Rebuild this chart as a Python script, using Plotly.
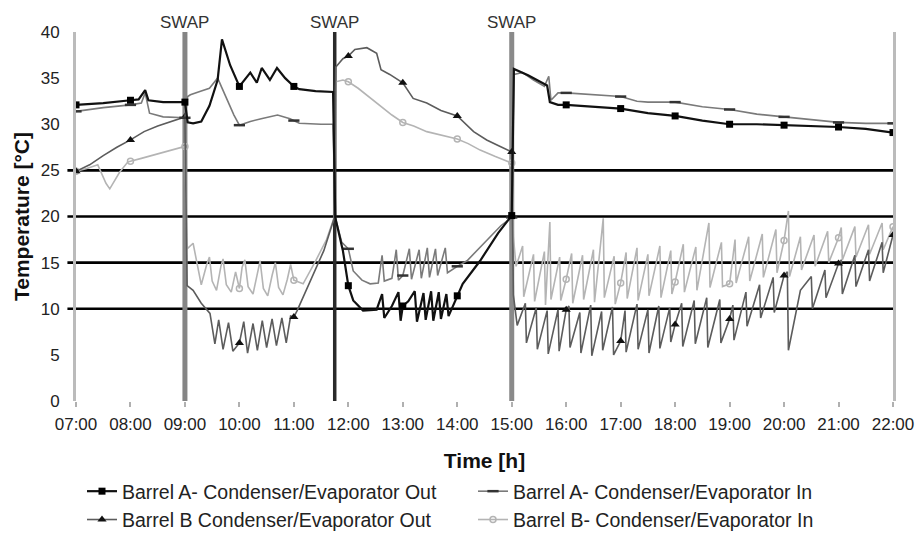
import plotly.graph_objects as go

# ---- axis labels / reference values ----
hours = list(range(7, 23))
hour_labels = [f"{h:02d}:00" for h in hours]
temp_ticks = [0, 5, 10, 15, 20, 25, 30, 35, 40]
ref_lines = [10, 15, 20, 25]
swap_times = [9.0, 11.75, 15.0]

# ---- measured temperatures (time in decimal hours, temperature in deg C) ----
a_out_t = [7.00, 7.50, 8.00, 8.15, 8.27, 8.33, 8.60, 9.00,
           9.05, 9.15, 9.30, 9.45, 9.60, 9.68, 9.83, 10.00, 10.20, 10.32, 10.41, 10.56,
           10.69, 10.84, 11.00, 11.10, 11.40, 11.72,
           11.76, 11.90, 12.00, 12.09, 12.27, 12.52, 12.62, 12.66, 12.80, 12.92, 12.96,
           13.00, 13.10, 13.22, 13.26, 13.38, 13.42, 13.52, 13.56, 13.66, 13.70, 13.80,
           13.84, 14.00, 14.10, 14.42, 14.75, 15.00,
           15.04, 15.30, 15.50, 15.65, 15.70, 15.85, 16.00, 16.50, 17.00, 17.50, 18.00,
           18.50, 19.00, 19.50, 20.00, 20.50, 21.00, 21.50, 22.00]
a_out_v = [32.1, 32.3, 32.6, 32.7, 33.7, 32.6, 32.4, 32.4,
           30.2, 30.1, 30.3, 32.0, 34.8, 39.2, 36.4, 34.1, 35.6, 34.5, 36.1, 34.8,
           36.1, 35.0, 34.1, 33.8, 33.6, 33.5,
           19.9, 16.3, 12.5, 10.9, 9.8, 9.9, 11.6, 9.0, 10.3, 11.8, 8.7,
           10.3, 10.8, 11.9, 8.6, 11.7, 8.8, 11.9, 8.7, 11.8, 8.9, 11.6,
           9.2, 11.4, 12.7, 15.2, 18.2, 20.1,
           36.0, 35.3, 34.7, 34.2, 32.4, 32.1, 32.1, 31.9, 31.7, 31.2, 30.9,
           30.4, 30.0, 30.0, 29.9, 29.8, 29.7, 29.5, 29.1]

a_in_t = [7.00, 7.50, 8.00, 8.20, 8.27, 8.35, 8.60, 9.00,
          9.05, 9.10, 9.30, 9.45, 9.60, 9.75, 9.90, 10.00, 10.20, 10.40, 10.70, 10.93,
          11.00, 11.10, 11.50, 11.72,
          11.76, 11.88, 12.00, 12.09, 12.25, 12.40, 12.55, 12.62, 12.66, 12.80, 12.88,
          12.92, 13.00, 13.12, 13.16, 13.30, 13.34, 13.45, 13.49, 13.60, 13.64, 13.78,
          13.82, 14.00, 14.18, 14.54, 14.80, 15.00,
          15.04, 15.20, 15.40, 15.60, 15.68, 15.72, 15.85, 16.00, 16.50, 17.00, 17.30,
          17.50, 18.00, 18.50, 19.00, 19.50, 20.00, 20.50, 21.00, 21.50, 22.00]
a_in_v = [31.4, 31.8, 32.1, 32.3, 33.4, 31.2, 30.8, 30.7,
          33.0, 33.2, 33.6, 33.9, 35.0, 33.0, 31.0, 29.9, 30.3, 30.6, 31.0, 30.6,
          30.4, 30.1, 30.0, 30.0,
          19.9, 17.2, 16.5, 14.1, 13.1, 12.7, 12.8, 15.8, 13.0, 13.3, 16.4,
          13.1, 13.6, 16.5, 13.2, 16.4, 13.3, 16.6, 13.4, 16.5, 13.6, 16.6,
          13.9, 14.6, 15.2, 17.4, 19.0, 19.9,
          35.4, 35.6, 34.8, 34.1, 35.2, 32.6, 33.4, 33.4, 33.2, 33.0, 32.5,
          32.4, 32.4, 31.9, 31.6, 31.1, 30.8, 30.5, 30.2, 30.1, 30.1]

b_out_t = [7.00, 7.25, 7.50, 7.75, 8.00, 8.25, 8.50, 8.75, 9.00,
           9.04, 9.15, 9.30, 9.46, 9.55, 9.62, 9.70, 9.80, 9.88, 10.00, 10.08, 10.15,
           10.25, 10.33, 10.42, 10.50, 10.60, 10.68, 10.78, 10.86, 10.94, 11.00, 11.06,
           11.30, 11.55, 11.74,
           11.77, 11.90, 12.00, 12.12, 12.34, 12.52, 12.60, 12.76, 13.00, 13.19, 13.44,
           13.70, 14.00, 14.30, 14.54, 14.75, 15.00,
           15.03, 15.10, 15.25, 15.27, 15.45, 15.47, 15.65, 15.67, 15.85, 15.87, 16.00,
           16.05, 16.07, 16.25, 16.27, 16.45, 16.47, 16.65, 16.67, 16.85, 16.87, 17.00,
           17.08, 17.10, 17.30, 17.32, 17.50, 17.52, 17.70, 17.72, 17.90, 17.92, 18.00,
           18.12, 18.14, 18.35, 18.37, 18.58, 18.60, 18.82, 18.84, 19.00, 19.06, 19.08,
           19.30, 19.32, 19.55, 19.57, 19.80, 19.82, 20.00, 20.06, 20.08, 20.30, 20.50,
           20.52, 20.75, 20.77, 21.00, 21.05, 21.07, 21.30, 21.32, 21.55, 21.57, 21.80,
           21.82, 22.00]
b_out_v = [24.9, 25.6, 26.6, 27.5, 28.3, 29.2, 29.8, 30.3, 30.8,
           12.5, 12.0, 10.6, 9.5, 6.2, 8.8, 5.6, 8.5, 5.4, 6.3, 8.6, 5.2,
           8.4, 5.5, 8.7, 5.8, 8.9, 6.0, 9.0, 6.3, 9.2, 9.1, 9.8,
           13.0, 16.3, 19.8,
           36.2, 37.1, 37.4, 38.1, 38.3, 37.7, 35.9, 35.4, 34.5, 32.8, 32.3,
           31.5, 30.9, 29.2, 28.3, 27.7, 27.0,
           11.5, 8.2, 10.6, 6.3, 10.1, 5.6, 9.8, 5.1, 9.9, 5.4, 9.9,
           10.3, 5.8, 9.6, 5.2, 10.4, 4.9, 9.7, 5.5, 10.2, 5.0, 6.5,
           9.8, 5.3, 10.5, 5.6, 9.9, 5.2, 10.3, 5.7, 10.1, 6.4, 8.3,
           10.6, 5.9, 10.9, 6.2, 11.2, 5.8, 11.0, 6.3, 8.9, 10.4, 6.6,
           11.8, 8.1, 12.6, 9.0, 13.4, 9.6, 13.6, 14.0, 5.5, 12.0, 13.5,
           10.0, 14.2, 11.2, 14.9, 15.3, 11.6, 15.8, 12.4, 16.4, 13.0, 17.2,
           13.9, 18.0]

b_in_t = [7.00, 7.20, 7.40, 7.55, 7.62, 7.80, 7.95, 8.00, 8.20, 8.50, 8.75, 9.00,
          9.04, 9.15, 9.22, 9.30, 9.40, 9.45, 9.50, 9.58, 9.66, 9.70, 9.76, 9.85, 9.93,
          10.00, 10.05, 10.10, 10.16, 10.25, 10.33, 10.38, 10.44, 10.52, 10.60, 10.66,
          10.72, 10.80, 10.88, 10.94, 11.00, 11.17, 11.40, 11.60, 11.74,
          11.77, 11.90, 12.00, 12.18, 12.52, 12.80, 13.00, 13.20, 13.44, 13.70, 14.00,
          14.20, 14.42, 14.70, 15.00,
          15.03, 15.08, 15.20, 15.22, 15.40, 15.42, 15.60, 15.62, 15.70, 15.72, 15.88,
          15.90, 16.00, 16.10, 16.12, 16.30, 16.32, 16.50, 16.52, 16.68, 16.70, 16.88,
          16.90, 17.00, 17.10, 17.12, 17.30, 17.32, 17.50, 17.52, 17.72, 17.74, 17.92,
          17.94, 18.00, 18.15, 18.17, 18.38, 18.40, 18.62, 18.64, 18.85, 18.87, 19.00,
          19.10, 19.12, 19.35, 19.37, 19.60, 19.62, 19.85, 19.87, 20.00, 20.08, 20.10,
          20.30, 20.32, 20.55, 20.57, 20.80, 20.82, 21.00, 21.05, 21.07, 21.30, 21.32,
          21.55, 21.57, 21.80, 21.82, 22.00]
b_in_v = [24.9, 25.2, 25.6, 23.6, 23.0, 24.8, 25.9, 26.0, 26.3, 26.8, 27.2, 27.6,
          16.5, 17.1, 15.0, 12.6, 14.8, 15.6, 13.0, 12.0, 14.6, 15.4, 12.6, 11.8, 14.0,
          12.2, 14.5, 15.3, 12.4, 11.6, 13.8, 15.2, 12.2, 11.4, 13.6, 15.0,
          12.3, 11.5, 13.2, 14.8, 13.1, 12.7, 15.2, 17.5, 19.9,
          34.6, 34.8, 34.6, 33.9, 32.3, 31.0, 30.2, 29.8, 29.2, 28.8, 28.4,
          27.9, 27.2, 26.5, 25.8,
          17.8, 14.6, 16.8, 11.3, 15.9, 10.8, 16.2, 10.4, 19.4, 11.0, 15.6,
          10.9, 13.2, 16.0, 10.6, 15.8, 11.0, 16.4, 10.7, 19.8, 11.2, 15.7,
          10.5, 12.8, 16.1, 11.1, 16.6, 10.9, 15.9, 11.4, 16.8, 11.2, 16.3,
          11.6, 12.9, 17.0, 11.8, 16.7, 12.0, 19.3, 12.3, 17.2, 12.4, 12.7,
          17.5, 12.8, 17.8, 13.0, 18.1, 13.4, 18.6, 13.9, 17.4, 20.6, 13.5,
          17.8, 14.2, 18.0, 14.6, 18.4, 15.0, 17.7, 18.8, 15.3, 18.9, 15.6,
          19.1, 15.9, 19.3, 16.4, 18.9]

series_names = [
    "Barrel A- Condenser/Evaporator Out",
    "Barrel A- Condenser/Evaporator In",
    "Barrel B Condenser/Evaporator Out",
    "Barrel B- Condenser/Evaporator In",
]

FONT = "Liberation Sans, Arial, sans-serif"

styles = {
    series_names[0]: dict(line=dict(color="#111111", width=2.2),
                          marker=dict(symbol="square", size=7, color="#000000")),
    series_names[1]: dict(line=dict(color="#7a7a7a", width=1.6),
                          marker=dict(symbol="line-ew", size=8,
                                      line=dict(width=2.5, color="#333333"))),
    series_names[2]: dict(line=dict(color="#5c5c5c", width=1.6),
                          marker=dict(symbol="triangle-up", size=8, color="#111111")),
    series_names[3]: dict(line=dict(color="#b4b4b4", width=1.6),
                          marker=dict(symbol="circle-open", size=6,
                                      line=dict(width=1.5, color="#7a7a7a"))),
}

series = [
    (series_names[0], a_out_t, a_out_v, 1),
    (series_names[1], a_in_t, a_in_v, 2),
    (series_names[2], b_out_t, b_out_v, 3),
    (series_names[3], b_in_t, b_in_v, 4),
]

fig = go.Figure()

# lighter series underneath, black series on top; markers only on the full hours
for name, t, v, rank in reversed(series):
    hourly = [i for i, x in enumerate(t) if float(x).is_integer()]
    st = styles[name]
    fig.add_trace(go.Scatter(
        x=t, y=v, name=name, mode="lines+markers",
        line=st["line"], marker=st["marker"],
        selectedpoints=hourly,
        unselected=dict(marker=dict(opacity=0)),
        legendrank=rank,
        hoverinfo="skip",
    ))

shapes = []
swap_style = [("#858585", 5), ("#2a2a2a", 3.5), ("#8a8a8a", 5)]
for xs, (col, w) in zip(swap_times, swap_style):
    shapes.append(dict(type="line", xref="x", yref="y", x0=xs, x1=xs, y0=0, y1=40,
                       line=dict(color=col, width=w), layer="below"))
for yv in ref_lines:
    shapes.append(dict(type="line", xref="paper", yref="y", x0=-0.0105, x1=1,
                       y0=yv, y1=yv, line=dict(color="#000000", width=2.6),
                       layer="below"))

annotations = [
    dict(x=xs, y=1.0, xref="x", yref="paper", yshift=10, text="SWAP",
         showarrow=False, yanchor="middle",
         font=dict(family=FONT, size=17, color="#333333"))
    for xs in swap_times
]

fig.update_layout(
    width=922, height=539,
    margin=dict(l=76, r=29, t=32, b=138),
    paper_bgcolor="white", plot_bgcolor="white",
    font=dict(family=FONT, color="#222222"),
    shapes=shapes,
    annotations=annotations,
    showlegend=True,
    legend=dict(
        orientation="h", xref="container", yref="container",
        x=82 / 922, xanchor="left", y=1 - 472 / 539, yanchor="top",
        entrywidth=346, entrywidthmode="pixels",
        font=dict(family=FONT, size=19.5, color="#222222"),
        bgcolor="rgba(0,0,0,0)", traceorder="normal",
    ),
)

fig.update_xaxes(
    range=[7, 22], tickvals=hours, ticktext=hour_labels,
    automargin=False,
    showgrid=False, zeroline=False, showline=False,
    ticks="outside", ticklen=5, tickcolor="#b0b0b0", tickwidth=1.5,
    tickfont=dict(family=FONT, size=17, color="#222222"),
    ticklabelstandoff=3,
    title=dict(text="<b>Time [h]</b>", standoff=22,
               font=dict(family=FONT, size=21, color="#111111")),
)
fig.update_yaxes(
    range=[0, 40], tickvals=temp_ticks,
    automargin=False,
    showgrid=False, zeroline=False,
    showline=True, linecolor="#bbbbbb", linewidth=3, mirror=True,
    ticks="", ticklabelstandoff=10,
    tickfont=dict(family=FONT, size=17, color="#222222"),
    title=dict(text="<b>Temperature [°C]</b>", standoff=6,
               font=dict(family=FONT, size=21, color="#111111")),
)

fig.write_html("out.html")
